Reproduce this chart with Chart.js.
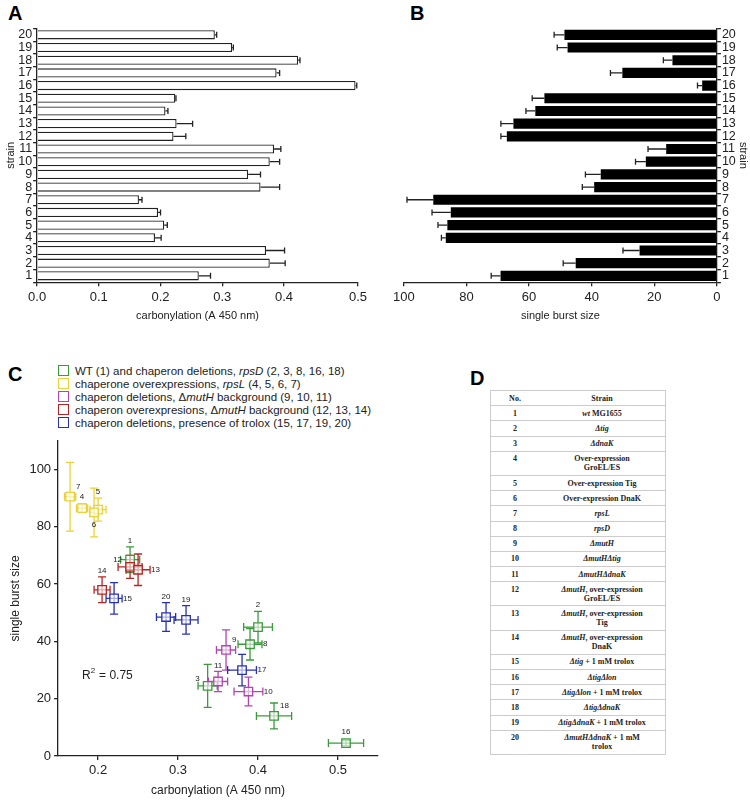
<!DOCTYPE html>
<html>
<head>
<script src="https://cdn.jsdelivr.net/npm/chart.js@4.4.0/dist/chart.umd.min.js"></script>
<style>
    body { margin: 0; width: 750px; height: 800px; position: relative; background: #fff; font-family: "Liberation Sans", Arial, sans-serif; }
    .box { position: absolute; }
    .letter { position: absolute; font-weight: bold; font-size: 20px; }
    #legC { position: absolute; left: 58px; top: 365px; font-size: 11.5px; line-height: 13px; color: #222; }
    #legC div { white-space: nowrap; }
    #legC span.sq { display: inline-block; width: 9px; height: 9px; border: 1.3px solid; margin-right: 6px; vertical-align: -1px; }
    #tblD { position: absolute; left: 490px; top: 390px; width: 176px; table-layout: fixed; border-collapse: collapse; font-family: "Liberation Serif", serif; font-weight: bold; font-size: 8px; line-height: 9px; color: #222; border: 1px solid #ccc; }
    #tblD td { border-top: 1px solid #ccc; text-align: center; padding: 2.6px 2px; vertical-align: top; }
    #tblD td:first-child { width: 44px; }
</style>
</head>
<body>
<div class="letter" style="left:8px;top:2px">A</div>
<div class="letter" style="left:410px;top:2px">B</div>
<div class="letter" style="left:8px;top:363px">C</div>
<div class="letter" style="left:470px;top:367px">D</div>
<div class="box" style="left:0;top:20px;width:372px;height:305px"><canvas id="cA"></canvas></div>
<div class="box" style="left:390px;top:20px;width:360px;height:305px"><canvas id="cB"></canvas></div>
<div class="box" style="left:0;top:430px;width:390px;height:370px"><canvas id="cC"></canvas></div>
<div id="legC"></div>
<table id="tblD"></table>
<script>
var strains = ['1','2','3','4','5','6','7','8','9','10','11','12','13','14','15','16','17','18','19','20'];
var carbonylation = [0.262,0.377,0.371,0.191,0.206,0.196,0.165,0.362,0.342,0.377,0.384,0.221,0.226,0.208,0.224,0.516,0.388,0.423,0.316,0.288];
var carbErr = [0.019,0.025,0.030,0.010,0.005,0.004,0.005,0.031,0.020,0.016,0.011,0.020,0.026,0.004,0.001,0.002,0.005,0.003,0.002,0.003];
var burst = [69.1,45.1,24.7,86.6,86.1,85.0,90.6,39.2,37.1,22.7,16.2,67.1,65.0,58.0,55.1,4.7,30.2,14.2,47.7,48.7];
var burstErr = [3,4,5.3,1.4,3,6,8.4,3.8,4.9,3.3,5.8,1.9,4,3,3.9,1.5,3.8,2.9,3.3,3.3];

// panel C scatter (as plotted)
var cX = [0.240,0.400,0.337,0.180,0.200,0.195,0.165,0.390,0.360,0.388,0.350,0.240,0.250,0.205,0.220,0.510,0.380,0.420,0.310,0.285];
var cY = [68.5,45,24.5,86.5,86,85,90.5,39,37,22.5,26,66,65,58,55,4.5,30,14,47.5,48.5];
var cXErr = [0.012,0.018,0.012,0.007,0.010,0.005,0.007,0.015,0.012,0.018,0.012,0.015,0.015,0.010,0.010,0.022,0.018,0.022,0.015,0.012];
var cYErr = [4.5,5.5,7.5,1.5,4,8.5,12,5.5,7,5,3.5,4,5.5,4.5,5.5,1,5.5,4.5,5,5];
var cLabelPos = ['top','top','left','top','top','bottom','topright','right','topright','right','top','left','right','top','right','top','right','topright','top','top'];
var groups = [
    {name: 'WT (1) and chaperon deletions, <i>rpsD</i> (2, 3, 8, 16, 18)', color: '#3c9a3c', members: [1,2,3,8,16,18]},
    {name: 'chaperone overexpressions, <i>rpsL</i> (4, 5, 6, 7)', color: '#e8d23a', members: [4,5,6,7]},
    {name: 'chaperon deletions, Δ<i>mutH</i> background (9, 10, 11)', color: '#b245b2', members: [9,10,11]},
    {name: 'chaperon overexpresions, Δ<i>mutH</i> background (12, 13, 14)', color: '#b52424', members: [12,13,14]},
    {name: 'chaperon deletions, presence of trolox (15, 17, 19, 20)', color: '#2632b0', members: [15,17,19,20]}
];

var tableRows = [
    ['No.','Strain'],['1','<i>wt</i> MG1655'],['2','<i>Δtig</i>'],['3','<i>ΔdnaK</i>'],['4','Over-expression<br>GroEL/ES'],
    ['5','Over-expression Tig'],['6','Over-expression DnaK'],['7','<i>rpsL</i>'],['8','<i>rpsD</i>'],['9','<i>ΔmutH</i>'],
    ['10','<i>ΔmutHΔtig</i>'],['11','<i>ΔmutHΔdnaK</i>'],['12','<i>ΔmutH</i>, over-expression<br>GroEL/ES'],
    ['13','<i>ΔmutH</i>, over-expression<br>Tig'],['14','<i>ΔmutH</i>, over-expression<br>DnaK'],['15','<i>Δtig</i> + 1 mM trolox'],
    ['16','<i>ΔtigΔlon</i>'],['17','<i>ΔtigΔlon</i> + 1 mM trolox'],['18','<i>ΔtigΔdnaK</i>'],
    ['19','<i>ΔtigΔdnaK</i> + 1 mM trolox'],['20','<i>ΔmutHΔdnaK</i> + 1 mM<br>trolox']
];

Chart.defaults.font.family = '"Liberation Sans", Arial, sans-serif';
Chart.defaults.color = '#222';
Chart.defaults.animation = false;

var tbl = document.getElementById('tblD');
tableRows.forEach(function (r) {
    var tr = document.createElement('tr');
    tr.innerHTML = '<td>' + r[0] + '</td><td>' + r[1] + '</td>';
    tbl.appendChild(tr);
});
var leg = document.getElementById('legC');
groups.forEach(function (g) {
    var d = document.createElement('div');
    d.innerHTML = '<span class="sq" style="border-color:' + g.color + '"></span>' + g.name;
    leg.appendChild(d);
});

function axisStyle(extra) {
    var a = {
        border: {display: true, color: '#222', width: 1.3},
        grid: {display: true, drawOnChartArea: false, color: '#222', tickLength: 4, lineWidth: 1.3},
        ticks: {font: {size: 12.5}, color: '#222', padding: 1, autoSkip: false}
    };
    for (var k in extra) a[k] = extra[k];
    return a;
}

// one-sided error bars for the bar panels
var barErrPlugin = {
    id: 'barErr',
    afterDatasetsDraw: function (chart) {
        var ctx = chart.ctx, xs = chart.scales.x, meta = chart.getDatasetMeta(0);
        var vals = chart.data.datasets[0].data, errs = chart.data.datasets[0].errors;
        ctx.save();
        ctx.strokeStyle = '#222'; ctx.lineWidth = 1.3;
        meta.data.forEach(function (bar, i) {
            var x0 = xs.getPixelForValue(vals[i]), x1 = xs.getPixelForValue(vals[i] + errs[i]);
            ctx.beginPath();
            ctx.moveTo(x0, bar.y); ctx.lineTo(x1, bar.y);
            ctx.moveTo(x1, bar.y - 3); ctx.lineTo(x1, bar.y + 3);
            ctx.stroke();
        });
        ctx.restore();
    }
};

new Chart(document.getElementById('cA'), {
    type: 'bar',
    data: {labels: strains, datasets: [{data: carbonylation, errors: carbErr, backgroundColor: '#fff', borderColor: '#222', borderWidth: 1.3, barPercentage: 0.72, categoryPercentage: 1}]},
    options: {
        indexAxis: 'y', responsive: true, maintainAspectRatio: false,
        layout: {padding: {top: 4, right: 14, left: 4}},
        plugins: {legend: {display: false}, tooltip: {enabled: false}},
        scales: {
            x: axisStyle({min: 0, max: 0.52, ticks: {font: {size: 13}, color: '#222', stepSize: 0.1, callback: function (v) { return v.toFixed(1); }},
                title: {display: true, text: 'carbonylation (A 450 nm)', font: {size: 11}, padding: 2}}),
            y: axisStyle({reverse: true, title: {display: true, text: 'strain', font: {size: 11}, padding: 0}})
        }
    },
    plugins: [barErrPlugin]
});

new Chart(document.getElementById('cB'), {
    type: 'bar',
    data: {labels: strains, datasets: [{data: burst, errors: burstErr, backgroundColor: '#000', borderColor: '#000', borderWidth: 0, barPercentage: 0.8, categoryPercentage: 1}]},
    options: {
        indexAxis: 'y', responsive: true, maintainAspectRatio: false,
        layout: {padding: {top: 4, left: 8}},
        plugins: {legend: {display: false}, tooltip: {enabled: false}},
        scales: {
            x: axisStyle({min: 0, max: 100, reverse: true, ticks: {font: {size: 13}, color: '#222', stepSize: 20},
                title: {display: true, text: 'single burst size', font: {size: 11}, padding: 2}}),
            y: axisStyle({reverse: true, position: 'right', title: {display: true, text: 'strain', font: {size: 11}, padding: 0}})
        }
    },
    plugins: [barErrPlugin]
});

var colorOf = strains.map(function (s) {
    var c = '#222';
    groups.forEach(function (g) { if (g.members.indexOf(+s) >= 0) c = g.color; });
    return c;
});

var scatterPlugin = {
    id: 'scatterErr',
    beforeDatasetsDraw: function (chart) {
        var ctx = chart.ctx, xs = chart.scales.x, ys = chart.scales.y;
        ctx.save(); ctx.lineWidth = 1.3;
        cX.forEach(function (x, i) {
            var px = xs.getPixelForValue(x), py = ys.getPixelForValue(cY[i]);
            var xl = xs.getPixelForValue(x - cXErr[i]), xr = xs.getPixelForValue(x + cXErr[i]);
            var yt = ys.getPixelForValue(cY[i] + cYErr[i]), yb = ys.getPixelForValue(cY[i] - cYErr[i]);
            ctx.strokeStyle = colorOf[i];
            ctx.beginPath();
            ctx.moveTo(xl, py); ctx.lineTo(xr, py);
            ctx.moveTo(xl, py - 4); ctx.lineTo(xl, py + 4);
            ctx.moveTo(xr, py - 4); ctx.lineTo(xr, py + 4);
            ctx.moveTo(px, yt); ctx.lineTo(px, yb);
            ctx.moveTo(px - 4, yt); ctx.lineTo(px + 4, yt);
            ctx.moveTo(px - 4, yb); ctx.lineTo(px + 4, yb);
            ctx.stroke();
        });
        ctx.restore();
    },
    afterDatasetsDraw: function (chart) {
        var ctx = chart.ctx, xs = chart.scales.x, ys = chart.scales.y;
        ctx.save();
        ctx.font = '8px "Liberation Sans", Arial, sans-serif';
        ctx.fillStyle = '#222';
        cX.forEach(function (x, i) {
            var px = xs.getPixelForValue(x), py = ys.getPixelForValue(cY[i]);
            var yt = ys.getPixelForValue(cY[i] + cYErr[i]);
            var p = cLabelPos[i], tx = px, ty = py;
            if (p === 'top') { tx = px; ty = Math.min(py - 11, yt - 6); ctx.textAlign = 'center'; }
            if (p === 'bottom') { tx = px; ty = py + 12; ctx.textAlign = 'center'; }
            if (p === 'left') { tx = px - 8; ty = py - 7; ctx.textAlign = 'right'; }
            if (p === 'right') { tx = xs.getPixelForValue(x + cXErr[i]) + 1; ty = py; ctx.textAlign = 'left'; }
            if (p === 'topright') { tx = px + 6; ty = py - 10; ctx.textAlign = 'left'; }
            ctx.textBaseline = 'middle';
            ctx.fillText(strains[i], tx, ty);
        });
        ctx.fillStyle = '#222';
        ctx.font = '12px "Liberation Sans", Arial, sans-serif';
        ctx.textAlign = 'left';
        var rx = xs.getPixelForValue(0.18), ry = ys.getPixelForValue(28);
        ctx.fillText('R', rx, ry);
        var w = ctx.measureText('R').width;
        ctx.font = '8px "Liberation Sans", Arial, sans-serif';
        ctx.fillText('2', rx + w, ry - 5);
        ctx.font = '12px "Liberation Sans", Arial, sans-serif';
        ctx.fillText(' = 0.75', rx + w + 5, ry);
        ctx.restore();
    }
};

new Chart(document.getElementById('cC'), {
    type: 'scatter',
    data: {datasets: [{
        data: cX.map(function (x, i) { return {x: x, y: cY[i]}; }),
        pointStyle: 'rect', pointRadius: 6, pointBackgroundColor: 'rgba(255,255,255,0.6)',
        pointBorderColor: colorOf, pointBorderWidth: 1.3
    }]},
    options: {
        responsive: true, maintainAspectRatio: false,
        layout: {padding: {top: 8, right: 12, left: 4}},
        plugins: {legend: {display: false}, tooltip: {enabled: false}},
        scales: {
            x: axisStyle({min: 0.15, max: 0.55, ticks: {font: {size: 13}, color: '#222',
                    callback: function (v) { return v.toFixed(1); }},
                afterBuildTicks: function (a) { a.ticks = [0.2,0.3,0.4,0.5].map(function (v) { return {value: v}; }); },
                title: {display: true, text: 'carbonylation (A 450 nm)', font: {size: 12}, padding: 2}}),
            y: axisStyle({min: 0, max: 110, ticks: {font: {size: 13}, color: '#222'},
                afterBuildTicks: function (a) { a.ticks = [0,20,40,60,80,100].map(function (v) { return {value: v}; }); },
                title: {display: true, text: 'single burst size', font: {size: 12}, padding: 4}})
        }
    },
    plugins: [scatterPlugin]
});
</script>
</body>
</html>
